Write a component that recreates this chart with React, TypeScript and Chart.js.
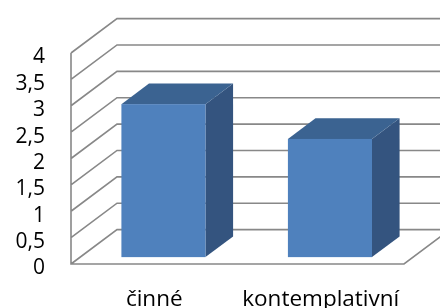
import React, { useEffect, useRef } from 'react';
import { Chart, registerables } from 'chart.js';

Chart.register(...registerables);

// ---- data ----
const categories: string[] = ['činné', 'kontemplativní'];
const values: number[] = [2.9, 2.24];
const yMin = 0;
const yMax = 4;
const yStep = 0.5;

// ---- style ----
const DEPTH_X = 46;
const DEPTH_Y = -34.4;
const BAR_FRONT = 0.2;
const BAR_BACK = 0.8;
const GRID_COLOR = '#888888';
const FRONT_COLOR = '#4f81bd';
const TOP_COLOR = '#3b6391';
const SIDE_COLOR = '#34547f';
const FONT = "'Open Sans', sans-serif";

const threeD = {
  id: 'threeD',
  beforeDatasetsDraw(chart: any) {
    const { ctx, chartArea, scales } = chart;
    const { left, right, top, bottom } = chartArea;
    const y = scales.y;
    ctx.save();
    ctx.strokeStyle = GRID_COLOR;
    ctx.lineWidth = 1.6;
    ctx.beginPath();
    y.ticks.forEach((t: any) => {
      const py = y.getPixelForValue(t.value);
      ctx.moveTo(left, py);
      ctx.lineTo(left + DEPTH_X, py + DEPTH_Y);
      ctx.lineTo(right + DEPTH_X, py + DEPTH_Y);
    });
    ctx.moveTo(left, top);
    ctx.lineTo(left, bottom);
    ctx.lineTo(right, bottom);
    ctx.lineTo(right + DEPTH_X, bottom + DEPTH_Y);
    ctx.stroke();
    ctx.restore();
  },
  afterDatasetsDraw(chart: any) {
    const { ctx } = chart;
    const meta = chart.getDatasetMeta(0);
    const fdx = BAR_FRONT * DEPTH_X;
    const fdy = BAR_FRONT * DEPTH_Y;
    const bdx = (BAR_BACK - BAR_FRONT) * DEPTH_X;
    const bdy = (BAR_BACK - BAR_FRONT) * DEPTH_Y;
    ctx.save();
    meta.data.forEach((bar: any) => {
      const { x, y, base, width } = bar.getProps(['x', 'y', 'base', 'width'], true);
      const x0 = x - width / 2 + fdx;
      const x1 = x + width / 2 + fdx;
      const yt = y + fdy;
      const yb = base + fdy;
      // side
      ctx.fillStyle = SIDE_COLOR;
      ctx.beginPath();
      ctx.moveTo(x1, yt);
      ctx.lineTo(x1 + bdx, yt + bdy);
      ctx.lineTo(x1 + bdx, yb + bdy);
      ctx.lineTo(x1, yb);
      ctx.closePath();
      ctx.fill();
      // top
      ctx.fillStyle = TOP_COLOR;
      ctx.beginPath();
      ctx.moveTo(x0, yt);
      ctx.lineTo(x0 + bdx, yt + bdy);
      ctx.lineTo(x1 + bdx, yt + bdy);
      ctx.lineTo(x1, yt);
      ctx.closePath();
      ctx.fill();
      // front
      ctx.fillStyle = FRONT_COLOR;
      ctx.fillRect(x0, yt, x1 - x0, yb - yt);
    });
    ctx.restore();
  },
};

export default function App() {
  const ref = useRef<HTMLCanvasElement>(null);
  useEffect(() => {
    document.body.style.margin = '0';
    if (!ref.current) return;
    const chart = new Chart(ref.current, {
      type: 'bar',
      data: {
        labels: categories,
        datasets: [
          {
            data: values,
            backgroundColor: 'rgba(0,0,0,0)',
            borderWidth: 0,
            categoryPercentage: 1,
            barPercentage: 0.505,
          },
        ],
      },
      options: {
        animation: false,
        responsive: true,
        maintainAspectRatio: false,
        layout: { padding: { top: 53, right: 36, bottom: 0, left: 0 } },
        plugins: { legend: { display: false }, tooltip: { enabled: false } },
        scales: {
          x: {
            grid: { display: false, drawTicks: false },
            border: { display: false },
            ticks: {
              color: '#000',
              font: { family: FONT, size: 22.5 },
              padding: 22,
              maxRotation: 0,
              autoSkip: false,
            },
            afterFit: (s: any) => {
              s.height = 44;
              s.paddingLeft = 0;
              s.paddingRight = 0;
            },
          },
          y: {
            min: yMin,
            max: yMax,
            grid: { display: false, drawTicks: false },
            border: { display: false },
            ticks: {
              stepSize: yStep,
              autoSkip: false,
              color: '#000',
              font: { family: FONT, size: 21 },
              padding: 26,
              labelOffset: 4.5,
              callback: (v: any) => String(v).replace('.', ','),
            },
            afterFit: (s: any) => {
              s.width = 71;
              s.paddingTop = 0;
              s.paddingBottom = 0;
            },
          },
        },
      },
      plugins: [threeD],
    });
    return () => chart.destroy();
  }, []);
  return (
    <div style={{ width: 440, height: 308, position: 'relative' }}>
      <canvas ref={ref} />
    </div>
  );
}
